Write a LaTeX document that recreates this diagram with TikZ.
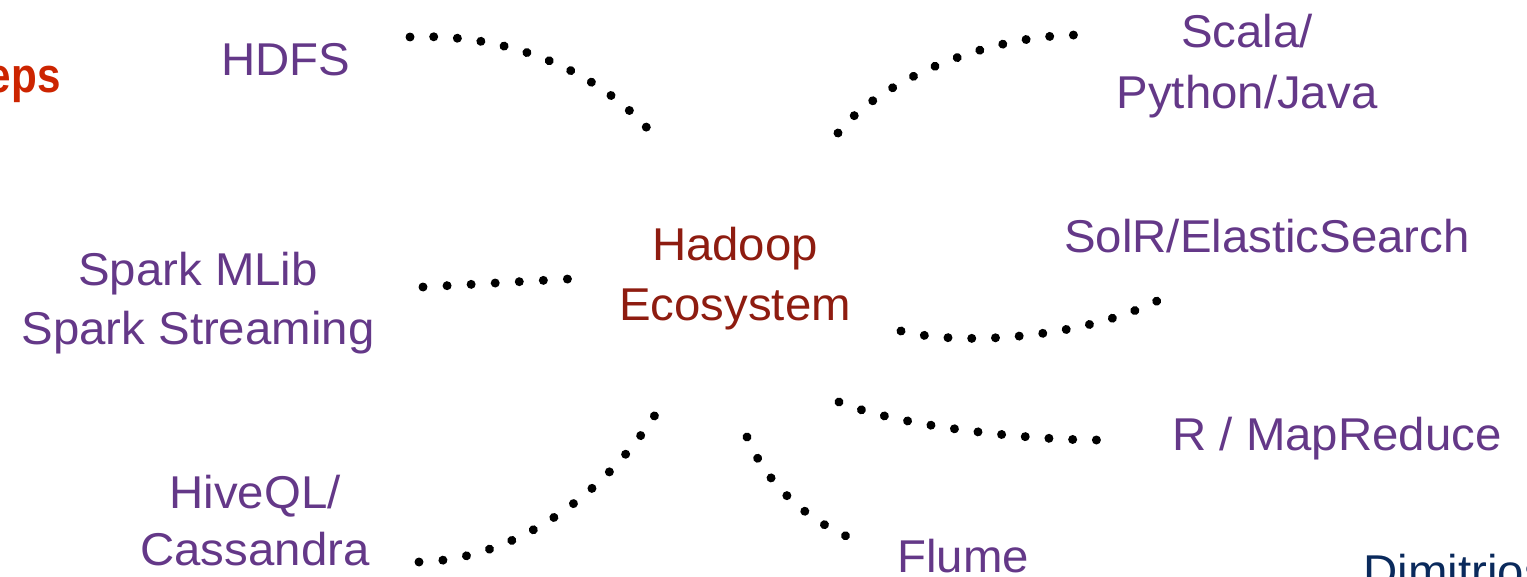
\documentclass[tikz,border=0pt]{standalone}
\usepackage{fontspec}
\setmainfont{Liberation Sans}[FakeStretch=1.03]
\newfontfamily\headfont{Liberation Sans}[FakeStretch=0.86]
\usetikzlibrary{decorations.markings}

\definecolor{toolpurple}{RGB}{100,56,136}
\definecolor{hadoopred}{RGB}{142,28,16}
\definecolor{titlered}{RGB}{204,36,0}
\definecolor{namenavy}{RGB}{10,42,92}

\begin{document}
\begin{tikzpicture}[x = 1pt, y = -1pt,
						tool/.style = {text = toolpurple, align = center,
							font = \fontsize{46}{59}\selectfont},
						dots/.style = {postaction = {decorate},
							decoration = {markings,
								mark = between positions 0 and 1 step #1 with
								{\fill[black] (0, 0) circle[radius = 4.5pt];}}},
						dots/.default = 0.09,
						]

		% Page frame
		\useasboundingbox (0, 0) rectangle (1527, 576);
		\clip (0, 0) rectangle (1527, 576);

		% Heading and name, both running off the page
		\node[anchor = base east, text = titlered,
			font = \headfont\fontsize{49}{56}\selectfont\bfseries] (heading) at (64, 92) {eps};
		\node[anchor = base west, text = namenavy,
			font = \fontsize{46}{52}\selectfont] (author) at (1360, 587) {Dimitrios};

		% Center
		\node[align = center, text = hadoopred,
			font = \fontsize{46}{60}\selectfont] (hadoop) at (735, 279) {Hadoop\\Ecosystem};

		% Tools around it
		\node[tool] (hdfs) at (286, 60) {HDFS};
		\node[tool, font = \fontsize{46}{61}\selectfont] (scala) at (1247, 66) {Scala/\\Python/Java};
		\node[tool] (spark) at (198, 303) {Spark MLib\\Spark Streaming};
		\node[tool] (solr) at (1267, 236) {SolR/ElasticSearch};
		\node[tool] (mapred) at (1337, 439) {R / MapReduce};
		\node[tool, font = \fontsize{46}{57}\selectfont] (hive) at (255, 521) {HiveQL/\\Cassandra};
		\node[tool] (flume) at (963, 556) {Flume};

		% Ends of the dotted links
		\coordinate (hdfsEnd) at (410, 37);
		\coordinate (hdfsHub) at (648, 129);
		\coordinate (scalaHub) at (838, 133);
		\coordinate (scalaEnd) at (1076, 35);
		\coordinate (sparkEnd) at (423, 287);
		\coordinate (sparkHub) at (568, 279);
		\coordinate (solrHub) at (901, 331);
		\coordinate (solrEnd) at (1159, 300);
		\coordinate (mapredHub) at (839, 402);
		\coordinate (mapredEnd) at (1099, 440);
		\coordinate (hiveEnd) at (419, 562);
		\coordinate (hiveHub) at (655, 415);
		\coordinate (flumeHub) at (747, 437);
		\coordinate (flumeEnd) at (846, 536);

		% Dotted links
		\path[dots] (hdfsEnd) .. controls (500, 33) and (590, 65) .. (hdfsHub);
		\path[dots] (scalaHub) .. controls (875, 85) and (980, 36) .. (scalaEnd);
		\path[dots = 0.166] (sparkEnd) -- (sparkHub);
		\path[dots] (solrHub) .. controls (965, 347) and (1085, 337) .. (solrEnd);
		\path[dots] (mapredHub) .. controls (900, 427) and (1030, 440) .. (mapredEnd);
		\path[dots = 0.083] (hiveEnd) .. controls (510, 560) and (600, 500) .. (hiveHub);
		\path[dots = 0.166] (flumeHub) .. controls (765, 480) and (800, 515) .. (flumeEnd);

	\end{tikzpicture}
\end{document}
